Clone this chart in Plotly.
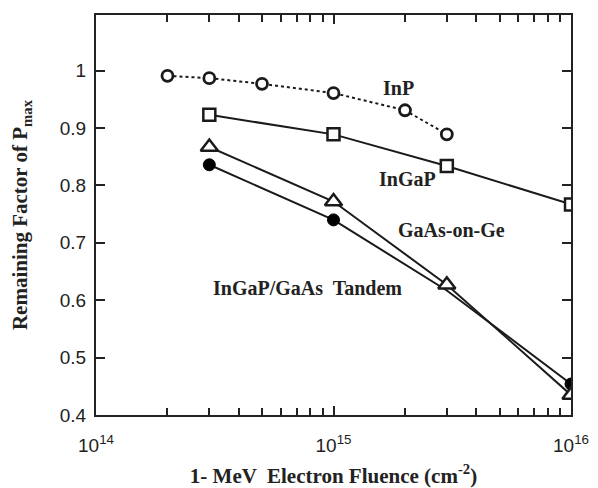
import plotly.graph_objects as go

fluence_inp = [2e14, 3e14, 5e14, 1e15, 2e15, 3e15]
factor_inp = [0.991, 0.987, 0.977, 0.961, 0.931, 0.889]

fluence_ingap = [3e14, 1e15, 3e15, 1e16]
factor_ingap = [0.923, 0.889, 0.834, 0.767]

fluence_gaas = [3e14, 1e15, 3e15, 1e16]
factor_gaas = [0.867, 0.772, 0.627, 0.435]

fluence_tandem = [3e14, 1e15, 3e15, 1e16]
factor_tandem = [0.836, 0.740, 0.617, 0.454]

x_tickvals = [1e14, 1e15, 1e16]
x_ticktext = ["10<sup>14</sup>", "10<sup>15</sup>", "10<sup>16</sup>"]
x_minorvals = [m * 10 ** e for e in (14, 15) for m in range(2, 10)]
y_tickvals = [0.4, 0.5, 0.6, 0.7, 0.8, 0.9, 1.0]
y_ticktext = ["0.4", "0.5", "0.6", "0.7", "0.8", "0.9", "1"]

INK = "#1a1a1a"
SERIF = "Times New Roman, Liberation Serif, serif"

fig = go.Figure()
fig.add_trace(go.Scatter(
    x=fluence_inp, y=factor_inp, mode="lines+markers",
    line=dict(color=INK, width=2, dash="dot"),
    marker=dict(symbol="circle", size=11, color="white", line=dict(width=2.8, color=INK)),
))
fig.add_trace(go.Scatter(
    x=fluence_ingap, y=factor_ingap, mode="lines+markers",
    line=dict(color=INK, width=2),
    marker=dict(symbol="square", size=12, color="white", line=dict(width=2.5, color=INK)),
))
fig.add_trace(go.Scatter(
    x=fluence_tandem, y=factor_tandem, mode="lines+markers",
    line=dict(color=INK, width=2),
    marker=dict(symbol="circle", size=[12, 12, 0, 12], color="black",
                line=dict(width=1, color="black"), opacity=1),
))
fig.add_trace(go.Scatter(
    x=fluence_gaas, y=factor_gaas, mode="lines+markers",
    line=dict(color=INK, width=2),
    marker=dict(symbol="triangle-up", size=15, color="white", line=dict(width=2.5, color=INK)),
))

lab_font = dict(family=SERIF, size=20, color="#222")
PL, PR, PT, PB = 96, 571, 15, 415


def px(xp, yp):
    return (xp - PL) / (PR - PL), (PB - yp) / (PB - PT)


for text, (xp, yp) in [("InP", (398, 88)), ("InGaP", (407, 179)),
                       ("GaAs-on-Ge", (451, 230)), ("InGaP/GaAs  Tandem", (307, 288))]:
    ax, ay = px(xp, yp)
    fig.add_annotation(xref="paper", yref="paper", x=ax, y=ay, xanchor="center", yanchor="middle",
                       text=f"<b>{text}</b>", showarrow=False, font=lab_font)

fig.update_layout(
    width=598, height=488,
    margin=dict(l=PL, r=598 - PR, t=PT, b=488 - PB),
    paper_bgcolor="white", plot_bgcolor="white",
    showlegend=False,
    font=dict(family="Arial, Liberation Sans, sans-serif", size=19, color="#222"),
    xaxis=dict(
        type="log", range=[14, 16], automargin=False,
        tickvals=x_tickvals, ticktext=x_ticktext,
        ticks="inside", ticklen=9, tickwidth=1.5, tickcolor="#222",
        showline=True, linecolor="#222", linewidth=2, mirror="ticks",
        showgrid=False, zeroline=False, ticklabeloverflow="allow",
        ticklabelstandoff=12,
        minor=dict(tickvals=x_minorvals, ticks="inside", ticklen=7, tickwidth=1.5,
                   tickcolor="#222", showgrid=False),
        tickfont=dict(size=19),
        title=dict(text="<b>1- MeV  Electron Fluence (cm<sup>-2</sup>)</b>",
                   font=dict(family=SERIF, size=21), standoff=18),
    ),
    yaxis=dict(
        range=[0.4, 1.097], automargin=False,
        tickvals=y_tickvals, ticktext=y_ticktext,
        ticks="inside", ticklen=9, tickwidth=1.5, tickcolor="#222",
        showline=True, linecolor="#222", linewidth=2, mirror="ticks",
        showgrid=False, zeroline=False, ticklabelstandoff=4,
        tickfont=dict(size=19),
        title=dict(text="<b>Remaining Factor of P<sub>max</sub></b>",
                   font=dict(family=SERIF, size=21), standoff=26),
    ),
)

fig.write_html("out.html", config={"displayModeBar": False},
               post_script="document.body.style.margin='0';")
